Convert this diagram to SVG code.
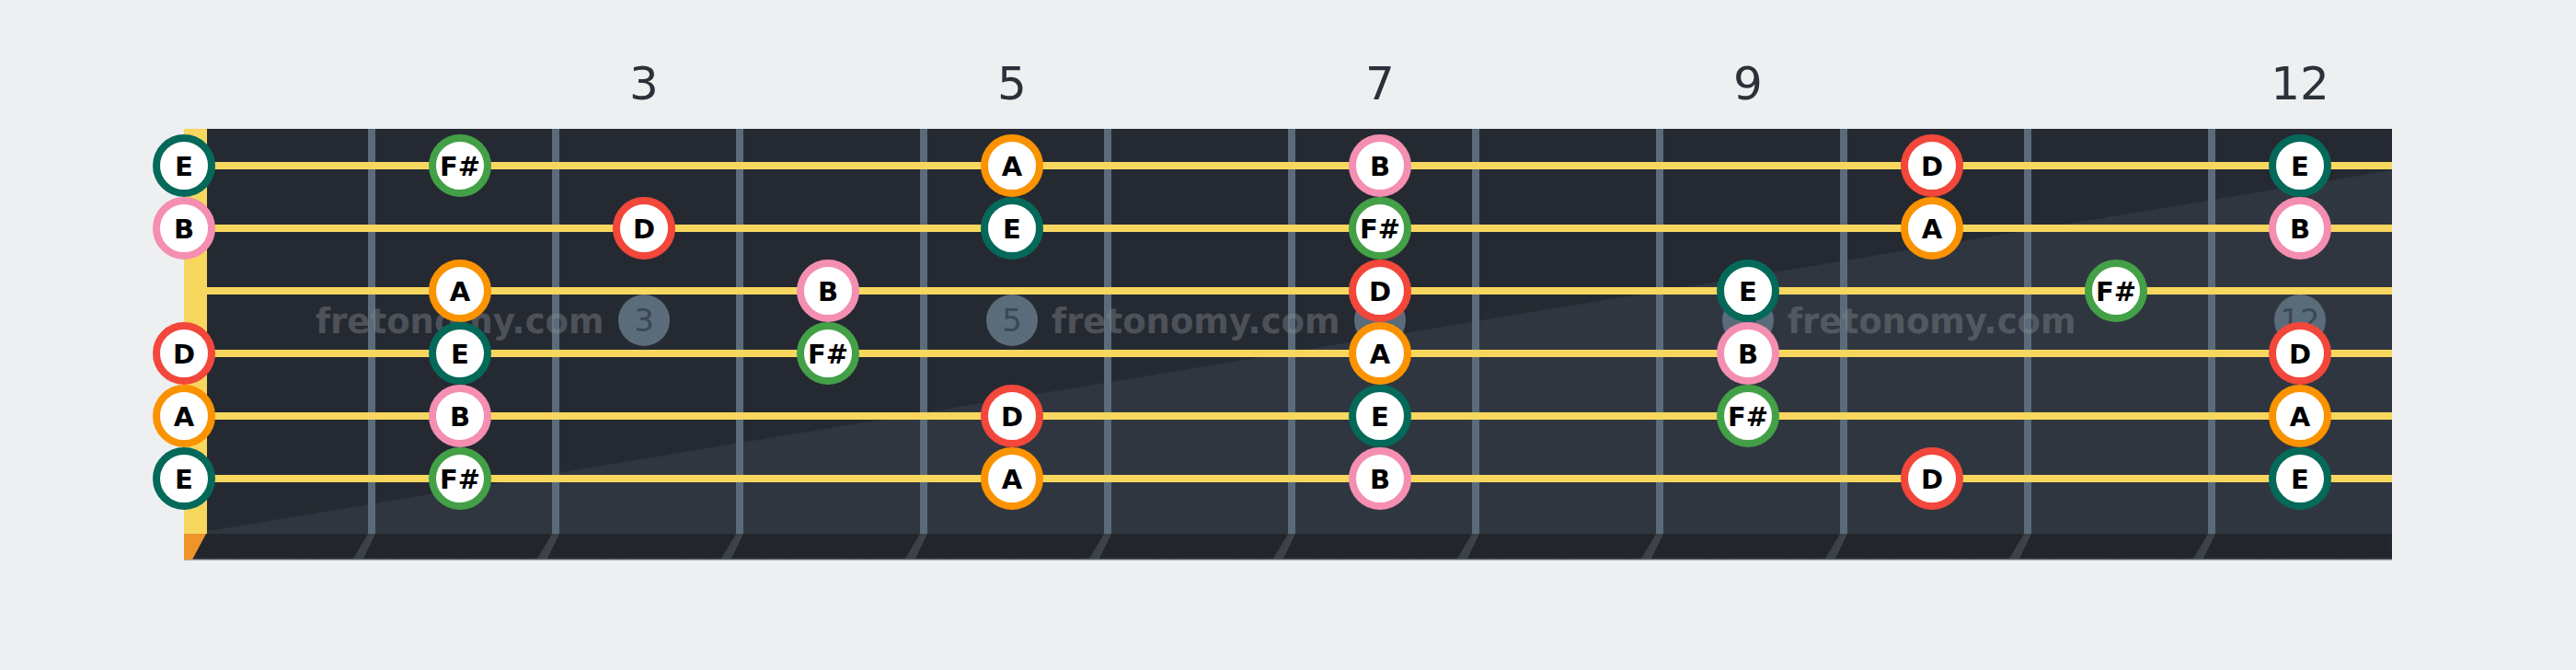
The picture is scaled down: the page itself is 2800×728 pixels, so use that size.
<svg xmlns="http://www.w3.org/2000/svg" width="2800" height="728" viewBox="0 0 2800 728">
<defs>
<style>
.fret{fill:#5b6b7a}
.fretfoot{fill:#3d4249}
.str{stroke:#f8d75f;stroke-width:8}
.inlay circle{fill:#5a6b7a}
.inlay text{font-family:"DejaVu Sans",sans-serif;font-size:34px;fill:#3c4752;text-anchor:middle}
.wm{font-family:"DejaVu Sans",sans-serif;font-weight:bold;font-size:37px;fill:#888c92;fill-opacity:0.42}
.num{font-family:"DejaVu Sans",sans-serif;font-size:50px;fill:#2b3139;text-anchor:middle}
.note circle{fill:#ffffff;stroke-width:8}
.note text{font-family:"DejaVu Sans",sans-serif;font-weight:bold;font-size:29px;fill:#000;text-anchor:middle}
.nE circle{stroke:#05695a}
.nFs circle{stroke:#43a047}
.nA circle{stroke:#fb9300}
.nB circle{stroke:#f48fb1}
.nD circle{stroke:#f2473a}
</style>
<pattern id="dots" width="3" height="3" patternUnits="userSpaceOnUse">
<rect width="3" height="3" fill="#262a30"/>
<rect width="1" height="1" fill="#15181c"/>
<rect x="1.5" y="1.5" width="1" height="1" fill="#15181c"/>
</pattern>
</defs>
<rect width="2800" height="728" fill="#eeeff1"/>

<g id="fret-numbers">
<text class="num" x="700" y="108">3</text>
<text class="num" x="1100" y="108">5</text>
<text class="num" x="1500" y="108">7</text>
<text class="num" x="1900" y="108">9</text>
<text class="num" x="2500" y="108">12</text>
</g>

<g id="fretboard">
<rect x="200" y="140" width="2400" height="440" fill="#252a32"/>
<polygon points="225,577 2600,185 2600,580 225,580" fill="#30363f"/>
<rect x="200" y="580" width="2400" height="27" fill="url(#dots)"/>
<rect x="200" y="607" width="2400" height="1.5" fill="#5d6670"/>
<g id="frets">
<rect class="fret" x="400" y="140" width="8" height="440"/>
<rect class="fret" x="600" y="140" width="8" height="440"/>
<rect class="fret" x="800" y="140" width="8" height="440"/>
<rect class="fret" x="1000" y="140" width="8" height="440"/>
<rect class="fret" x="1200" y="140" width="8" height="440"/>
<rect class="fret" x="1400" y="140" width="8" height="440"/>
<rect class="fret" x="1600" y="140" width="8" height="440"/>
<rect class="fret" x="1800" y="140" width="8" height="440"/>
<rect class="fret" x="2000" y="140" width="8" height="440"/>
<rect class="fret" x="2200" y="140" width="8" height="440"/>
<rect class="fret" x="2400" y="140" width="8" height="440"/>
<polygon class="fretfoot" points="400,580 408,580 395,607 384,607"/>
<polygon class="fretfoot" points="600,580 608,580 595,607 584,607"/>
<polygon class="fretfoot" points="800,580 808,580 795,607 784,607"/>
<polygon class="fretfoot" points="1000,580 1008,580 995,607 984,607"/>
<polygon class="fretfoot" points="1200,580 1208,580 1195,607 1184,607"/>
<polygon class="fretfoot" points="1400,580 1408,580 1395,607 1384,607"/>
<polygon class="fretfoot" points="1600,580 1608,580 1595,607 1584,607"/>
<polygon class="fretfoot" points="1800,580 1808,580 1795,607 1784,607"/>
<polygon class="fretfoot" points="2000,580 2008,580 1995,607 1984,607"/>
<polygon class="fretfoot" points="2200,580 2208,580 2195,607 2184,607"/>
<polygon class="fretfoot" points="2400,580 2408,580 2395,607 2384,607"/>
</g>
<g id="nut">
<rect x="200" y="140" width="25" height="440" fill="#f8d75f"/>
<polygon points="200,580 224,580 209,608 200,608" fill="#ee942a"/>
</g>
</g>

<g id="inlays" class="inlay">
<circle cx="700" cy="348" r="28"/><text x="700" y="360">3</text>
<circle cx="1100" cy="348" r="28"/><text x="1100" y="360">5</text>
<circle cx="1500" cy="348" r="28"/><text x="1500" y="360">7</text>
<circle cx="1900" cy="348" r="28"/><text x="1900" y="360">9</text>
<circle cx="2500" cy="348" r="28"/><text x="2500" y="360">12</text>
</g>

<g id="watermarks">
<text class="wm" x="343" y="362">fretonomy.com</text>
<text class="wm" x="1143" y="362">fretonomy.com</text>
<text class="wm" x="1943" y="362">fretonomy.com</text>
</g>

<g id="strings">
<line class="str" x1="225" y1="180" x2="2600" y2="180"/>
<line class="str" x1="225" y1="248" x2="2600" y2="248"/>
<line class="str" x1="225" y1="316" x2="2600" y2="316"/>
<line class="str" x1="225" y1="384" x2="2600" y2="384"/>
<line class="str" x1="225" y1="452" x2="2600" y2="452"/>
<line class="str" x1="225" y1="520" x2="2600" y2="520"/>
</g>

<g id="notes">
<g id="s1-f0" class="note nE"><circle cx="200" cy="180" r="30"/><text x="200" y="190.5">E</text></g>
<g id="s1-f2" class="note nFs"><circle cx="500" cy="180" r="30"/><text x="500" y="190.5">F#</text></g>
<g id="s1-f5" class="note nA"><circle cx="1100" cy="180" r="30"/><text x="1100" y="190.5">A</text></g>
<g id="s1-f7" class="note nB"><circle cx="1500" cy="180" r="30"/><text x="1500" y="190.5">B</text></g>
<g id="s1-f10" class="note nD"><circle cx="2100" cy="180" r="30"/><text x="2100" y="190.5">D</text></g>
<g id="s1-f12" class="note nE"><circle cx="2500" cy="180" r="30"/><text x="2500" y="190.5">E</text></g>

<g id="s2-f0" class="note nB"><circle cx="200" cy="248" r="30"/><text x="200" y="258.5">B</text></g>
<g id="s2-f3" class="note nD"><circle cx="700" cy="248" r="30"/><text x="700" y="258.5">D</text></g>
<g id="s2-f5" class="note nE"><circle cx="1100" cy="248" r="30"/><text x="1100" y="258.5">E</text></g>
<g id="s2-f7" class="note nFs"><circle cx="1500" cy="248" r="30"/><text x="1500" y="258.5">F#</text></g>
<g id="s2-f10" class="note nA"><circle cx="2100" cy="248" r="30"/><text x="2100" y="258.5">A</text></g>
<g id="s2-f12" class="note nB"><circle cx="2500" cy="248" r="30"/><text x="2500" y="258.5">B</text></g>

<g id="s3-f2" class="note nA"><circle cx="500" cy="316" r="30"/><text x="500" y="326.5">A</text></g>
<g id="s3-f4" class="note nB"><circle cx="900" cy="316" r="30"/><text x="900" y="326.5">B</text></g>
<g id="s3-f7" class="note nD"><circle cx="1500" cy="316" r="30"/><text x="1500" y="326.5">D</text></g>
<g id="s3-f9" class="note nE"><circle cx="1900" cy="316" r="30"/><text x="1900" y="326.5">E</text></g>
<g id="s3-f11" class="note nFs"><circle cx="2300" cy="316" r="30"/><text x="2300" y="326.5">F#</text></g>

<g id="s4-f0" class="note nD"><circle cx="200" cy="384" r="30"/><text x="200" y="394.5">D</text></g>
<g id="s4-f2" class="note nE"><circle cx="500" cy="384" r="30"/><text x="500" y="394.5">E</text></g>
<g id="s4-f4" class="note nFs"><circle cx="900" cy="384" r="30"/><text x="900" y="394.5">F#</text></g>
<g id="s4-f7" class="note nA"><circle cx="1500" cy="384" r="30"/><text x="1500" y="394.5">A</text></g>
<g id="s4-f9" class="note nB"><circle cx="1900" cy="384" r="30"/><text x="1900" y="394.5">B</text></g>
<g id="s4-f12" class="note nD"><circle cx="2500" cy="384" r="30"/><text x="2500" y="394.5">D</text></g>

<g id="s5-f0" class="note nA"><circle cx="200" cy="452" r="30"/><text x="200" y="462.5">A</text></g>
<g id="s5-f2" class="note nB"><circle cx="500" cy="452" r="30"/><text x="500" y="462.5">B</text></g>
<g id="s5-f5" class="note nD"><circle cx="1100" cy="452" r="30"/><text x="1100" y="462.5">D</text></g>
<g id="s5-f7" class="note nE"><circle cx="1500" cy="452" r="30"/><text x="1500" y="462.5">E</text></g>
<g id="s5-f9" class="note nFs"><circle cx="1900" cy="452" r="30"/><text x="1900" y="462.5">F#</text></g>
<g id="s5-f12" class="note nA"><circle cx="2500" cy="452" r="30"/><text x="2500" y="462.5">A</text></g>

<g id="s6-f0" class="note nE"><circle cx="200" cy="520" r="30"/><text x="200" y="530.5">E</text></g>
<g id="s6-f2" class="note nFs"><circle cx="500" cy="520" r="30"/><text x="500" y="530.5">F#</text></g>
<g id="s6-f5" class="note nA"><circle cx="1100" cy="520" r="30"/><text x="1100" y="530.5">A</text></g>
<g id="s6-f7" class="note nB"><circle cx="1500" cy="520" r="30"/><text x="1500" y="530.5">B</text></g>
<g id="s6-f10" class="note nD"><circle cx="2100" cy="520" r="30"/><text x="2100" y="530.5">D</text></g>
<g id="s6-f12" class="note nE"><circle cx="2500" cy="520" r="30"/><text x="2500" y="530.5">E</text></g>
</g>
</svg>
